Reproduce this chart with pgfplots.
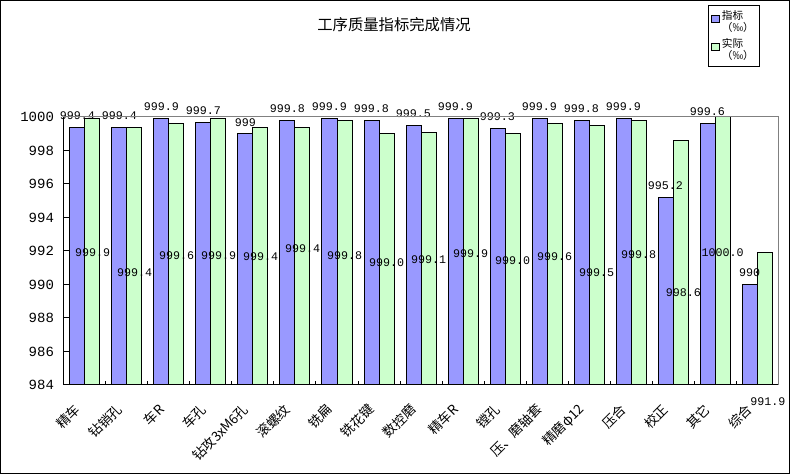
\documentclass[border=0pt]{standalone}
\usepackage{fontspec}
\setmainfont{Noto Sans CJK SC}
\newfontfamily\numfont{Liberation Mono}
\usepackage{pgfplots}
\pgfplotsset{compat=1.18}
\usepackage{pgfplotstable}
\definecolor{barblue}{HTML}{9999FF}
\definecolor{bargreen}{HTML}{CCFFCC}
\definecolor{framegray}{HTML}{808080}

\pgfplotstableread{
x a b la
1 999.4 999.9 999.4
2 999.4 999.4 999.4
3 999.9 999.6 999.9
4 999.7 999.9 999.7
5 999.0 999.4 999
6 999.8 999.4 999.8
7 999.9 999.8 999.9
8 999.8 999.0 999.8
9 999.5 999.1 999.5
10 999.9 999.9 999.9
11 999.3 999.0 999.3
12 999.9 999.6 999.9
13 999.8 999.5 999.8
14 999.9 999.8 999.9
15 995.2 998.6 995.2
16 999.6 1000.0 999.6
17 990.0 991.9 990
}\data

\begin{document}
\begin{tikzpicture}
\useasboundingbox (-48pt,-66.75pt) rectangle (544.5pt,288.75pt);
\draw[line width=1pt] (-47.5pt,-66.25pt) rectangle (544pt,288.25pt);
\node[font=\fontsize{11.5}{12}\selectfont] at (247.5pt,270pt) {工序质量指标完成情况};
\begin{axis}[
  at={(0,0)}, anchor=south west,
  scale only axis, width=535.5pt, height=201pt,
  ymin=984, ymax=1000, ytick={984,986,...,1000},
  xmin=0.5, xmax=17.5,
  ybar=0pt, bar width=11.25pt,
  xtick={1,...,17},
  xticklabels={精车,钻销孔,车R,车孔,钻攻3xM6孔,滚螺纹,铣扁,铣花键,数控磨,精车R,镗孔,压、磨轴套,精磨φ12,压合,校正,其它,综合},
  minor xtick={0.5,1.5,...,17.5},
  clip mode=individual,
  axis line style={draw=none},
  tick align=inside, tick pos=left,
  major x tick style={draw=none},
  major tick length=3.75pt, minor tick length=3pt,
  tick style={black, line width=0.75pt},
  yticklabel style={font=\numfont\fontsize{10.5}{10.5}\selectfont, xshift=-4pt},
  /pgf/number format/assume math mode=true,
  /pgf/number format/1000 sep={},
  xticklabel style={font=\fontsize{10}{10}\selectfont, xshift=-3pt, yshift=-14pt, rotate=45, anchor=east},
  reverse legend,
  legend style={at={(0.902,1.418)}, anchor=north west, font=\fontsize{8}{9}\selectfont,
    draw=black, line width=0.75pt, inner xsep=2pt, inner ysep=1.5pt, row sep=0pt,
    cells={align=left, anchor=west}},
  nodes near coords style={font=\numfont\fontsize{8.75}{8.75}\selectfont, yshift=2pt, black},
]
\addplot[fill=bargreen, draw=black, line width=0.75pt, bar shift=5.625pt,
  legend image code/.code={\draw[fill=bargreen,draw=black,line width=0.5pt] (0pt,-0.5pt) rectangle (5.5pt,5pt);}]
  table[x=x, y=b] {\data};
\addlegendentry{实际\\（‰）}
\addplot[fill=barblue, draw=black, line width=0.75pt, bar shift=-5.625pt,
  nodes near coords, point meta=explicit symbolic,
  legend image code/.code={\draw[fill=barblue,draw=black,line width=0.5pt] (0pt,-0.5pt) rectangle (5.5pt,5pt);}]
  table[x=x, y=a, meta=la] {\data};
\addlegendentry{指标\\（‰）}

\draw[framegray, line width=0.75pt] (rel axis cs:0,1) -- (rel axis cs:1,1) -- (rel axis cs:1,0);
\draw[black, line width=0.75pt] (rel axis cs:0,1) -- (rel axis cs:0,0) -- (rel axis cs:1,0);

\tikzset{glab/.style={font=\numfont\fontsize{8.75}{8.75}\selectfont, inner sep=0pt}}
\node[glab] at (axis cs:1.18,991.88) {999.9};
\node[glab] at (axis cs:2.18,990.69) {999.4};
\node[glab] at (axis cs:3.18,991.70) {999.6};
\node[glab] at (axis cs:4.18,991.70) {999.9};
\node[glab] at (axis cs:5.18,991.64) {999.4};
\node[glab] at (axis cs:6.18,992.12) {999.4};
\node[glab] at (axis cs:7.18,991.70) {999.8};
\node[glab] at (axis cs:8.18,991.28) {999.0};
\node[glab] at (axis cs:9.18,991.46) {999.1};
\node[glab] at (axis cs:10.18,991.82) {999.9};
\node[glab] at (axis cs:11.18,991.40) {999.0};
\node[glab] at (axis cs:12.18,991.64) {999.6};
\node[glab] at (axis cs:13.18,990.69) {999.5};
\node[glab] at (axis cs:14.18,991.76) {999.8};
\node[glab] at (axis cs:15.25,989.49) {998.6};
\node[glab] at (axis cs:16.18,991.88) {1000.0};
\node[glab] at (axis cs:17.26,982.99) {991.9};
\end{axis}
\end{tikzpicture}
\end{document}
